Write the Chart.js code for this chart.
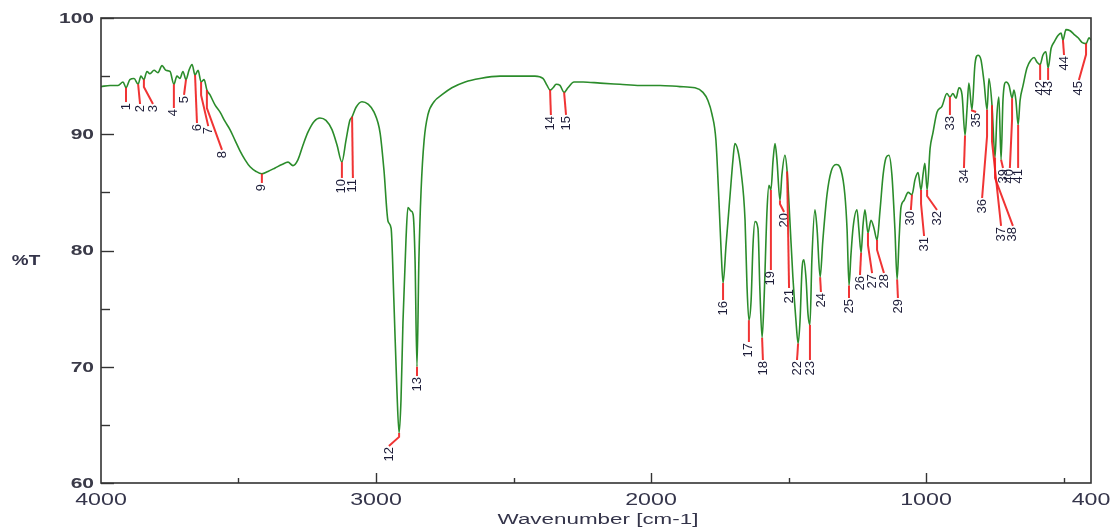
<!DOCTYPE html>
<html>
<head>
<meta charset="utf-8">
<script src="https://cdn.jsdelivr.net/npm/chart.js@4.4.1/dist/chart.umd.min.js"></script>
<style>
  html, body { margin: 0; padding: 0; background: #fff; }
  #wrap { width: 1113px; height: 529px; position: relative; }
</style>
</head>
<body>
<div id="wrap"><canvas id="irChart"></canvas></div>
<script>
// IR spectrum (wavenumber in cm-1, transmittance in %T)
const wavenumbers = [
  4000, 3967, 3938, 3920, 3909, 3895, 3880, 3865, 3855, 3844, 3833, 3822, 3807, 3793, 3778, 3764,
  3749, 3735, 3724, 3713, 3702, 3691, 3680, 3669, 3658, 3647, 3636, 3625, 3615, 3604, 3585, 3567,
  3549, 3531, 3513, 3495, 3476, 3458, 3436, 3415, 3393, 3367, 3342, 3320, 3302, 3284, 3265, 3247,
  3225, 3204, 3182, 3160, 3142, 3124, 3109, 3095, 3087, 3073, 3051, 3029, 3007, 2985, 2971, 2956,
  2945, 2935, 2924, 2916, 2909, 2902, 2891, 2884, 2873, 2865, 2858, 2851, 2844, 2836, 2825, 2811,
  2789, 2760, 2724, 2676, 2622, 2549, 2476, 2422, 2393, 2378, 2367, 2356, 2345, 2331, 2316, 2302,
  2280, 2247, 2185, 2113, 2040, 1967, 1895, 1840, 1811, 1793, 1778, 1764, 1753, 1745, 1738, 1727,
  1713, 1702, 1695, 1684, 1673, 1658, 1651, 1644, 1636, 1629, 1622, 1611, 1604, 1596, 1589, 1578,
  1571, 1564, 1556, 1549, 1542, 1531, 1524, 1513, 1505, 1495, 1484, 1473, 1465, 1458, 1451, 1444,
  1436, 1429, 1422, 1415, 1404, 1396, 1385, 1375, 1360, 1345, 1327, 1309, 1295, 1287, 1280, 1273,
  1265, 1251, 1244, 1236, 1229, 1222, 1211, 1200, 1189, 1178, 1167, 1156, 1145, 1135, 1124, 1113,
  1105, 1098, 1091, 1080, 1065, 1051, 1040, 1029, 1018, 1011, 1004, 996, 985, 975, 960, 942,
  924, 913, 902, 891, 880, 869, 858, 851, 844, 833, 822, 811, 800, 789, 778, 771,
  760, 749, 742, 735, 727, 720, 709, 698, 687, 680, 673, 665, 658, 647, 633, 618,
  607, 596, 585, 575, 564, 556, 545, 535, 520, 509, 502, 491, 476, 462, 447, 433,
  418, 407, 400
];
const transmittance = [
  94.1, 94.2, 94.2, 94.5, 94.0, 94.7, 94.8, 94.3, 95.0, 94.7, 95.4, 95.2, 95.5, 95.3, 95.9, 95.5,
  95.4, 94.3, 95.0, 94.8, 95.4, 94.7, 95.5, 96.0, 95.1, 95.5, 94.5, 94.7, 93.8, 93.4, 92.5, 91.9,
  91.1, 90.4, 89.5, 88.6, 87.8, 87.2, 86.8, 86.6, 86.8, 87.1, 87.4, 87.6, 87.3, 87.8, 89.1, 90.2,
  91.1, 91.4, 91.2, 90.4, 89.1, 87.6, 89.5, 91.2, 91.5, 92.3, 92.8, 92.6, 91.9, 90.1, 86.9, 82.5,
  81.9, 75.7, 68.0, 64.3, 67.2, 73.8, 80.9, 83.7, 83.4, 83.1, 79.2, 70.0, 79.2, 85.2, 89.5, 91.7,
  92.8, 93.4, 94.0, 94.5, 94.8, 95.0, 95.0, 95.0, 94.8, 94.2, 93.8, 94.0, 94.3, 94.2, 93.6, 94.0,
  94.5, 94.5, 94.4, 94.3, 94.2, 94.2, 94.1, 94.0, 93.6, 92.9, 91.7, 89.5, 84.3, 80.0, 77.2, 80.5,
  84.6, 87.8, 89.2, 88.6, 86.9, 82.6, 77.0, 74.0, 75.7, 80.5, 82.5, 81.9, 76.6, 72.5, 75.7, 83.5,
  85.6, 85.2, 87.8, 89.2, 87.8, 84.3, 86.5, 88.2, 86.8, 82.6, 77.7, 74.0, 72.0, 74.0, 78.3, 79.2,
  77.5, 74.5, 73.6, 79.2, 83.5, 81.8, 77.7, 80.9, 84.8, 86.8, 87.4, 86.9, 84.8, 81.8, 77.0, 79.6,
  82.0, 83.5, 81.8, 79.8, 82.2, 83.5, 81.5, 82.6, 81.9, 80.9, 83.5, 86.5, 88.0, 88.2, 86.5, 81.8,
  77.5, 80.9, 83.7, 84.3, 85.0, 84.8, 86.1, 86.7, 85.2, 86.5, 87.5, 85.2, 88.8, 90.1, 91.9, 92.4,
  93.5, 93.2, 93.5, 93.1, 94.0, 93.4, 89.9, 92.1, 94.4, 92.1, 96.0, 96.8, 96.4, 94.5, 92.1, 94.8,
  92.5, 88.0, 91.7, 93.2, 87.8, 93.0, 94.5, 94.2, 93.1, 93.8, 92.9, 90.8, 92.9, 94.2, 95.7, 96.4,
  96.6, 96.2, 96.0, 96.8, 97.1, 95.7, 97.4, 97.9, 98.5, 98.7, 98.1, 99.0, 98.9, 98.6, 98.3, 97.9,
  97.8, 98.3, 98.1
];

// peak picks: peak wavenumber, and where the leader line ends / the label sits
const peakWn = [
  3909, 3865, 3844, 3735, 3691, 3658, 3636, 3615, 3415, 3124, 3087, 2916, 2851, 2367, 2316, 1738,
  1644, 1596, 1564, 1531, 1505, 1465, 1422, 1385, 1280, 1236, 1211, 1178, 1105, 1051, 1018, 996,
  913, 858, 833, 778, 760, 749, 727, 687, 665, 585, 556, 502, 418
];
const labelWn = [
  3909, 3858, 3811, 3735, 3698, 3651, 3610, 3560, 3415, 3124, 3084, 2953, 2851, 2364, 2309, 1738,
  1644, 1593, 1564, 1516, 1498, 1469, 1422, 1382, 1280, 1240, 1196, 1153, 1102, 1055, 1007, 960,
  913, 862, 818, 796, 727, 684, 720, 695, 665, 585, 556, 498, 444
];
const labelT = [
  92.77, 92.60, 92.60, 92.26, 93.38, 90.97, 90.70, 88.65, 85.81, 86.24, 86.24, 63.18, 69.20, 91.66, 91.66, 75.74,
  72.13, 70.58, 78.32, 83.31, 76.77, 70.58, 70.58, 76.43, 75.91, 77.89, 78.06, 78.06, 75.91, 83.48, 81.25, 83.48,
  91.66, 87.10, 91.91, 84.52, 82.11, 82.11, 87.10, 87.10, 87.10, 94.67, 94.67, 96.82, 94.67
];

const yTicks = [60, 65, 70, 75, 80, 85, 90, 95, 100];
const yTickLabels = [60, 70, 80, 90, 100];
const xTicks = [500, 1000, 1500, 2000, 2500, 3000, 3500];
const xTickLabels = [4000, 3000, 2000, 1000, 400];

function transAt(wn) {
  for (let i = 0; i < wavenumbers.length - 1; i++) {
    const a = wavenumbers[i], b = wavenumbers[i + 1];
    if (wn <= a && wn >= b) {
      const t = (a - wn) / (a - b);
      return transmittance[i] + t * (transmittance[i + 1] - transmittance[i]);
    }
  }
  return transmittance[transmittance.length - 1];
}

// text is wide in the original, so draw it a bit stretched
function wideText(ctx, txt, x, y, font, color, align, sx) {
  ctx.save();
  ctx.font = font;
  ctx.fillStyle = color;
  ctx.textBaseline = 'middle';
  const w = ctx.measureText(txt).width * sx;
  let left = x;
  if (align === 'center') left = x - w / 2;
  if (align === 'right') left = x - w;
  ctx.translate(left, y);
  ctx.scale(sx, 1);
  ctx.textAlign = 'left';
  ctx.fillText(txt, 0, 0);
  ctx.restore();
}

const decorPlugin = {
  id: 'decor',
  afterDatasetsDraw(chart) {
    const { ctx, scales: { x, y } } = chart;

    // peak markers
    ctx.save();
    ctx.strokeStyle = 'rgba(238,30,30,0.9)';
    ctx.lineWidth = 2;
    peakWn.forEach((wn, i) => {
      const px = x.getPixelForValue(wn);
      const py = y.getPixelForValue(transAt(wn));
      const lx = x.getPixelForValue(labelWn[i]);
      const ly = y.getPixelForValue(labelT[i]);
      ctx.beginPath();
      ctx.moveTo(px, py);
      if (Math.abs(lx - px) > 2) ctx.lineTo(px, py + (ly - py) * 0.3);
      ctx.lineTo(lx, ly);
      ctx.stroke();

      ctx.save();
      ctx.translate(lx, ly + 1);
      ctx.rotate(-Math.PI / 2);
      ctx.fillStyle = '#1c1c38';
      ctx.font = '13px "Liberation Sans", Arial, sans-serif';
      ctx.textAlign = 'right';
      ctx.textBaseline = 'middle';
      ctx.fillText(String(i + 1), 0, 0);
      ctx.restore();
    });
    ctx.restore();
  },
  afterDraw(chart) {
    const { ctx, chartArea: a, scales: { x, y } } = chart;
    ctx.save();
    ctx.strokeStyle = '#333';
    ctx.lineWidth = 1.6;
    ctx.strokeRect(a.left, a.top, a.right - a.left, a.bottom - a.top);

    // ticks point into the plot
    ctx.lineWidth = 1.4;
    yTicks.forEach(v => {
      const py = Math.round(y.getPixelForValue(v)) + 0.5;
      const len = v % 10 === 0 ? 13 : 9;
      ctx.beginPath();
      ctx.moveTo(a.left, py);
      ctx.lineTo(a.left + len, py);
      ctx.stroke();
    });
    xTicks.forEach(v => {
      const px = Math.round(x.getPixelForValue(v)) + 0.5;
      const len = v % 1000 === 0 ? 10 : 5;
      ctx.beginPath();
      ctx.moveTo(px, a.bottom);
      ctx.lineTo(px, a.bottom - len);
      ctx.stroke();
    });
    ctx.restore();

    const yFont = 'bold 14px "Liberation Sans", Arial, sans-serif';
    yTickLabels.forEach(v => {
      wideText(ctx, String(v), a.left - 7, y.getPixelForValue(v) + 1, yFont, '#3a3a48', 'right', 1.5);
    });
    const xFont = '16px "Liberation Sans", Arial, sans-serif';
    xTickLabels.forEach(v => {
      wideText(ctx, String(v), x.getPixelForValue(v), a.bottom + 18, xFont, '#34344a', 'center', 1.45);
    });
    wideText(ctx, '%T', 26, 261, 'bold 14px "Liberation Sans", Arial, sans-serif', '#34344a', 'center', 1.35);
    wideText(ctx, 'Wavenumber [cm-1]', (a.left + a.right) / 2 + 2, 520, '14px "Liberation Sans", Arial, sans-serif', '#34344a', 'center', 1.6);
  }
};

const ctx = document.getElementById('irChart').getContext('2d');
new Chart(ctx, {
  type: 'line',
  data: {
    datasets: [{
      data: wavenumbers.map((w, i) => ({ x: w, y: transmittance[i] })),
      borderColor: '#2b8c2b',
      borderWidth: 1.6,
      pointRadius: 0,
      fill: false,
      cubicInterpolationMode: 'monotone'
    }]
  },
  options: {
    responsive: true,
    maintainAspectRatio: false,
    animation: false,
    layout: { padding: { left: 101, right: 22, top: 18, bottom: 46 } },
    scales: {
      x: { type: 'linear', reverse: true, min: 400, max: 4000, display: false },
      y: { type: 'linear', min: 60, max: 100, display: false }
    },
    plugins: {
      legend: { display: false },
      tooltip: { enabled: false }
    }
  },
  plugins: [decorPlugin]
});
</script>
</body>
</html>
